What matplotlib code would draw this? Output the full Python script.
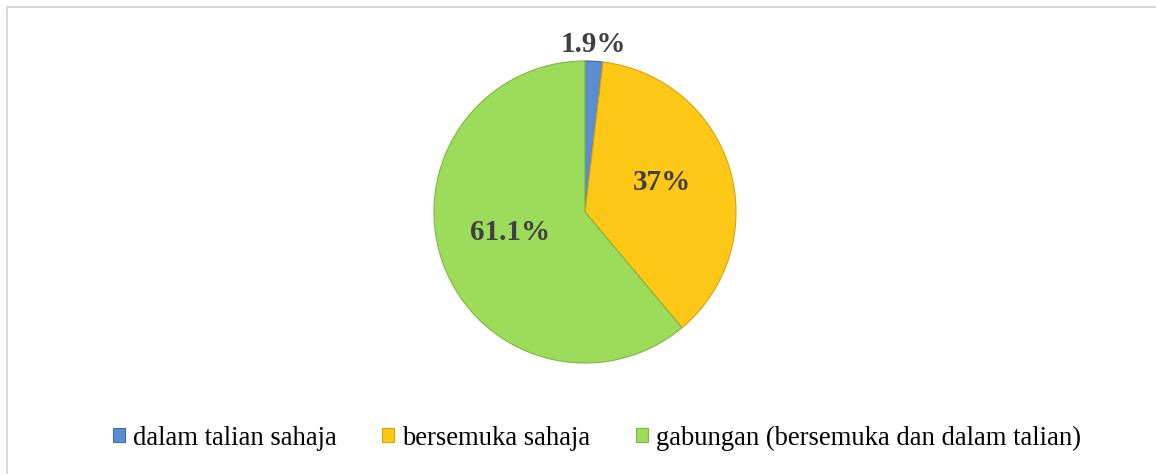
import matplotlib
matplotlib.use("Agg")
import matplotlib.pyplot as plt
from matplotlib.patches import Patch
from matplotlib.lines import Line2D

# data
categories = ["dalam talian sahaja", "bersemuka sahaja", "gabungan (bersemuka dan dalam talian)"]
values = [1.9, 37.0, 61.1]
value_labels = ["1.9%", "37%", "61.1%"]
colors = ["#5A8ED0", "#FFC817", "#9DDB5A"]
edge_colors = ["#3C6AA8", "#D9A400", "#7DB83E"]

plt.rcParams["font.family"] = ["Liberation Serif", "DejaVu Serif"]

fig = plt.figure(figsize=(11.56, 4.74), dpi=100)

# light grey frame, only top and left show in the reference
fig.add_artist(Line2D([7 / 1156, 7 / 1156], [0, 1 - 7 / 474], transform=fig.transFigure, color="#D9D9D9", lw=1.5))
fig.add_artist(Line2D([7 / 1156, 1], [1 - 7 / 474, 1 - 7 / 474], transform=fig.transFigure, color="#D9D9D9", lw=1.5))

ax = fig.add_axes([434 / 1156, 111 / 474, 302 / 1156, 302 / 474])
wedges, _ = ax.pie(values, colors=colors, startangle=90, counterclock=False,
                   wedgeprops=dict(linewidth=0.8))
for w, ec in zip(wedges, edge_colors):
    w.set_edgecolor(ec)
ax.set_aspect("equal")
ax.set_xlim(-1, 1)
ax.set_ylim(-1, 1)
ax.axis("off")

# value labels (placed in pixel positions converted to axes data)
label_pos = [(593, 44), (662, 183), (510, 232)]
for (px, py), txt in zip(label_pos, value_labels):
    x = (px - 585) / 151
    y = (212 - py) / 151
    ax.text(x, y, txt, ha="center", va="center", fontsize=21, fontweight="bold",
            color="#404040", clip_on=False)

handles = [Patch(facecolor=c, edgecolor=e, linewidth=0.8) for c, e in zip(colors, edge_colors)]
fig.legend(handles, categories, loc="center", bbox_to_anchor=(597 / 1156, 1 - 438 / 474),
           ncol=3, frameon=False, fontsize=19.2, handlelength=0.45, handleheight=0.45,
           handletextpad=0.3, columnspacing=1.7)

fig.savefig("out.png", dpi=100)
